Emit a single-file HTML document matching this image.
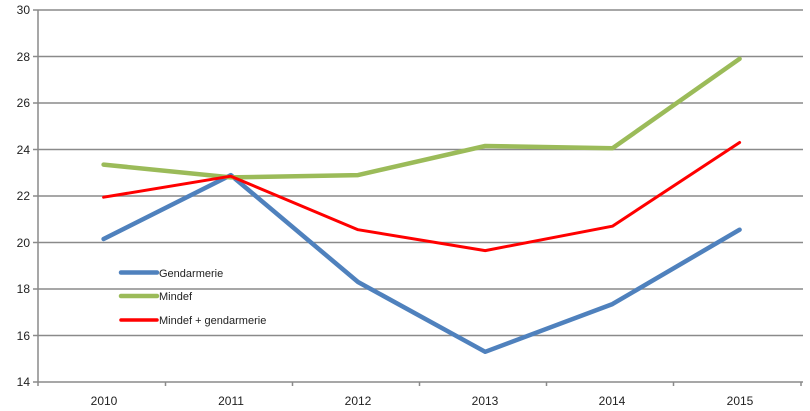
<!DOCTYPE html>
<html><head><style>body{margin:0;background:#fff}svg{display:block}text{font-family:"Liberation Sans",sans-serif;font-size:12px;fill:#222}</style></head><body>
<svg width="810" height="411" viewBox="0 0 810 411">
<g stroke="#8a8a8a" stroke-width="1.5">
<line x1="33" y1="10" x2="803" y2="10"/><line x1="33" y1="56.5" x2="803" y2="56.5"/><line x1="33" y1="103" x2="803" y2="103"/><line x1="33" y1="149.5" x2="803" y2="149.5"/><line x1="33" y1="196" x2="803" y2="196"/><line x1="33" y1="242.5" x2="803" y2="242.5"/><line x1="33" y1="289" x2="803" y2="289"/><line x1="33" y1="335.5" x2="803" y2="335.5"/><line x1="33" y1="382" x2="803" y2="382"/>
<line x1="38" y1="10" x2="38" y2="386"/>
<line x1="165.5" y1="382" x2="165.5" y2="386"/><line x1="292.5" y1="382" x2="292.5" y2="386"/><line x1="419.5" y1="382" x2="419.5" y2="386"/><line x1="546.5" y1="382" x2="546.5" y2="386"/><line x1="673.5" y1="382" x2="673.5" y2="386"/><line x1="801" y1="382" x2="801" y2="386"/>
</g>
<g text-anchor="end"><text x="30" y="14">30</text><text x="30" y="61">28</text><text x="30" y="107">26</text><text x="30" y="154">24</text><text x="30" y="200">22</text><text x="30" y="247">20</text><text x="30" y="293">18</text><text x="30" y="340">16</text><text x="30" y="386">14</text></g>
<g text-anchor="middle"><text x="104" y="405">2010</text><text x="231" y="405">2011</text><text x="358" y="405">2012</text><text x="485" y="405">2013</text><text x="612" y="405">2014</text><text x="740" y="405">2015</text></g>
<g fill="none" stroke-linejoin="round" stroke-linecap="round">
<polyline stroke="#4f81bd" stroke-width="4.5" points="103.6,239 230.8,175.1 358,282 485.2,351.8 612.4,304.1 739.6,229.7"/>
<polyline stroke="#9bbb59" stroke-width="4.5" points="103.6,164.6 230.8,177.4 358,175.1 485.2,146 612.4,148.3 739.6,58.8"/>
<polyline stroke="#ff0000" stroke-width="3" points="103.6,197.2 230.8,176.2 358,229.7 485.2,250.6 612.4,226.2 739.6,142.5"/>
<line x1="121" y1="272.5" x2="157" y2="272.5" stroke="#4f81bd" stroke-width="4.5"/>
<line x1="121" y1="296" x2="157" y2="296" stroke="#9bbb59" stroke-width="4.5"/>
<line x1="121" y1="320" x2="157" y2="320" stroke="#ff0000" stroke-width="3.5"/>
</g>
<text x="159" y="277" style="font-size:11px">Gendarmerie</text>
<text x="159" y="300" style="font-size:11px">Mindef</text>
<text x="159" y="324" style="font-size:11px">Mindef + gendarmerie</text>
</svg></body></html>
